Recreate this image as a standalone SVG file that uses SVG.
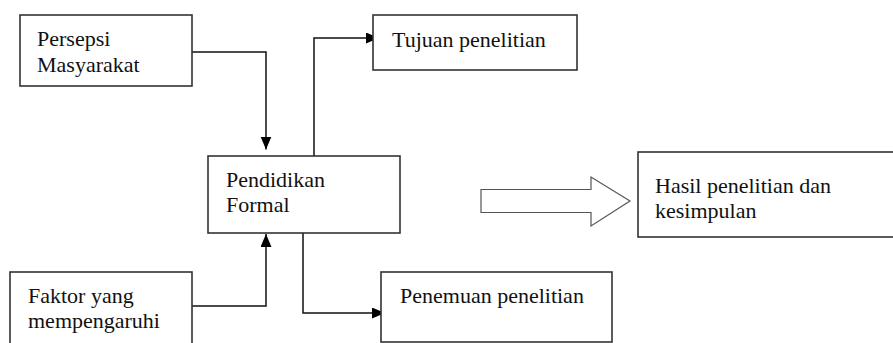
<svg xmlns="http://www.w3.org/2000/svg" width="893" height="343" viewBox="0 0 893 343">
<style>
.box{fill:#fff;stroke:#333;stroke-width:1.6}
.txt{font-family:'Liberation Serif','Tinos','Times New Roman','DejaVu Serif',serif;font-size:22px;fill:#111}
.conn{fill:none;stroke:#111;stroke-width:1.5}
.block{fill:#fff;stroke:#555;stroke-width:1.2}
</style>
<defs>
<marker id="ah" markerUnits="userSpaceOnUse" markerWidth="14" markerHeight="12" refX="13" refY="5.5" orient="auto">
<path d="M0,0 L13,5.5 L0,11 z" fill="#000"/>
</marker>
</defs>
<rect width="893" height="343" fill="#fff"/>
<g id="connectors">
<path class="conn" d="M192,52 H266 V149.5" marker-end="url(#ah)"/>
<path class="conn" d="M192,306 H266 V234" marker-end="url(#ah)"/>
<path class="conn" d="M314,156 V38 H379" marker-end="url(#ah)"/>
<path class="conn" d="M303,233 V313 H385" marker-end="url(#ah)"/>
<polygon class="block" points="481,189.5 591,189.5 591,177 630,201 591,226 591,212.5 481,212.5"/>
</g>
<g id="persepsi">
<rect class="box" x="20" y="15" width="172" height="71"/>
<text class="txt" font-family="Liberation Serif, serif" x="37" y="46">Persepsi</text>
<text class="txt" font-family="Liberation Serif, serif" x="37" y="72">Masyarakat</text>
</g>
<g id="pendidikan">
<rect class="box" x="208" y="156" width="192" height="77"/>
<text class="txt" x="226" y="187">Pendidikan</text>
<text class="txt" x="226" y="212">Formal</text>
</g>
<g id="faktor">
<rect class="box" x="10" y="272" width="182" height="80"/>
<text class="txt" x="28" y="303">Faktor yang</text>
<text class="txt" x="28" y="328">mempengaruhi</text>
</g>
<g id="tujuan">
<rect class="box" x="373" y="15" width="204" height="55"/>
<text class="txt" x="392" y="47">Tujuan penelitian</text>
</g>
<g id="penemuan">
<rect class="box" x="381" y="272" width="231" height="70"/>
<text class="txt" x="400" y="303">Penemuan penelitian</text>
</g>
<g id="hasil">
<rect class="box" x="638" y="152" width="270" height="85"/>
<text class="txt" x="655" y="193">Hasil penelitian dan</text>
<text class="txt" x="655" y="218">kesimpulan</text>
</g>
</svg>
